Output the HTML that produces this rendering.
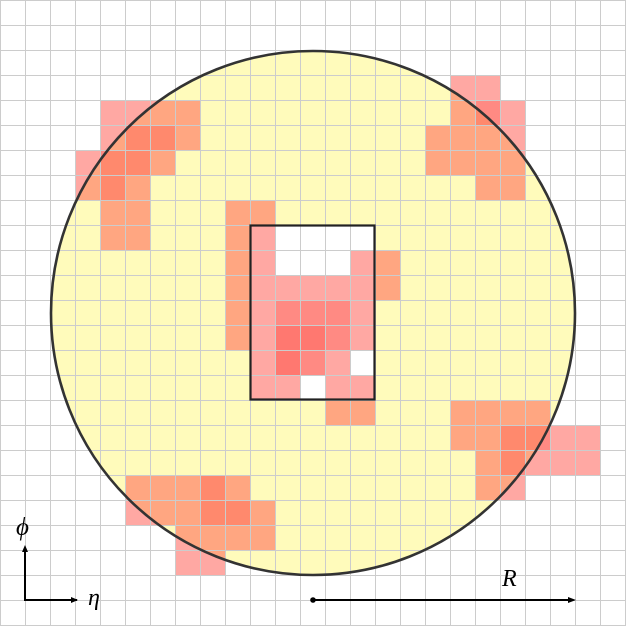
<!DOCTYPE html>
<html><head><meta charset="utf-8"><style>html,body{margin:0;padding:0;background:#fff}svg{display:block}</style></head>
<body>
<svg id="chart" width="626" height="626" viewBox="0 0 626 626" xmlns="http://www.w3.org/2000/svg">
<g id="bg"></g>
<g id="cells"></g>
<g id="grid"></g>
<g id="over"></g>
</svg>
<script>
// cells: column index, row index, intensity level
const cellCols = [4,5,6,7, 4,5,6,7, 3,4,5,6, 3,4,5, 4,5,9,10, 4,5,9,10, 9,10,14,15, 9,10,11,12,13,14,15, 9,10,11,12,13,14, 9,10,11,12,13,14, 10,11,12,13, 10,11,13,14, 13,14,
  18,19, 18,19,20, 17,18,19,20, 17,18,19,20, 19,20,
  18,19,20,21, 18,19,20,21,22,23, 19,20,21,22,23, 19,20,
  5,6,7,8,9, 5,6,7,8,9,10, 7,8,9,10, 7,8];
const cellRows = [4,4,4,4, 5,5,5,5, 6,6,6,6, 7,7,7, 8,8,8,8, 9,9,9,9, 10,10,10,10, 11,11,11,11,11,11,11, 12,12,12,12,12,12, 13,13,13,13,13,13, 14,14,14,14, 15,15,15,15, 16,16,
  3,3, 4,4,4, 5,5,5,5, 6,6,6,6, 7,7,
  16,16,16,16, 17,17,17,17,17,17, 18,18,18,18,18, 19,19,
  19,19,19,19,19, 20,20,20,20,20,20, 21,21,21,21, 22,22];
const cellLevels = [1,1,1,1, 1,2,2,1, 1,2,2,1, 1,2,1, 1,1,1,1, 1,1,1,1, 1,1,1,1, 1,1,1,1,1,1,1, 1,1,2,2,2,1, 1,1,3,3,2,1, 1,3,2,1, 1,1,1,1, 1,1,
  1,1, 1,2,1, 1,1,1,1, 1,1,1,1, 1,1,
  1,1,1,1, 1,1,2,2,1,1, 1,2,1,1,1, 1,1,
  1,1,1,2,1, 1,1,1,2,2,1, 1,1,1,1, 1,1];
const levelAlpha = [0, 0.5, 0.68, 0.78];
const gridCount = [26];
const NS = 'http://www.w3.org/2000/svg';
const cell = 25;
function xPos(c){return c*cell;}
function yPos(r){return r*cell;}
function mk(tag, attrs, parent){const e=document.createElementNS(NS,tag);for(const k in attrs)e.setAttribute(k,attrs[k]);parent.appendChild(e);return e;}
const bg=document.getElementById('bg'), cg=document.getElementById('cells'), gg=document.getElementById('grid'), ov=document.getElementById('over');
let circ=mk('circle',{cx:313,cy:313,r:262,fill:'#fffbbb'},bg);


let rw=mk('rect',{x:250.5,y:225.5,width:124,height:174,fill:'#fff'},bg);


for(let i=0;i<cellCols.length;i++){
  const r=mk('rect',{x:xPos(cellCols[i]),y:yPos(cellRows[i]),width:cell,height:cell,fill:'rgb(255,82,72)','fill-opacity':levelAlpha[cellLevels[i]]},cg);
  
  
}
for(let k=0;k<gridCount[0];k++){
  const p=k*cell+0.5;
  mk('line',{x1:p,y1:0,x2:p,y2:626,stroke:'#cccccc','stroke-width':1},gg);
  mk('line',{x1:0,y1:p,x2:626,y2:p,stroke:'#cccccc','stroke-width':1},gg);
}
let cs=mk('circle',{cx:313,cy:313,r:262,fill:'none',stroke:'#333','stroke-width':2.6},ov);


let rs=mk('rect',{x:250.5,y:225.5,width:124,height:174,fill:'none',stroke:'#222','stroke-width':2.2},ov);


let ax=mk('path',{d:'M25 549 V600 H77',fill:'none',stroke:'#000','stroke-width':2},ov);


mk('path',{d:'M22 552 L25 545 L28 552 Z',fill:'#000'},ov);
mk('path',{d:'M71 597 L78 600 L71 603 Z',fill:'#000'},ov);
let phi=mk('text',{x:16,y:535,'font-family':'Liberation Serif, serif','font-style':'italic','font-size':25,fill:'#000'},ov);phi.textContent='ϕ';


let eta=mk('text',{x:88,y:605,'font-family':'Liberation Serif, serif','font-style':'italic','font-size':24,fill:'#000'},ov);eta.textContent='η';


let ra=mk('line',{x1:313,y1:600,x2:570,y2:600,stroke:'#000','stroke-width':2},ov);


mk('circle',{cx:313,cy:600,r:2.8,fill:'#000'},ov);
mk('path',{d:'M568 597 L576 600 L568 603 Z',fill:'#000'},ov);
let rl=mk('text',{x:502,y:586,'font-family':'Liberation Serif, serif','font-style':'italic','font-size':24,fill:'#000'},ov);rl.textContent='R';


</script>
</body></html>
